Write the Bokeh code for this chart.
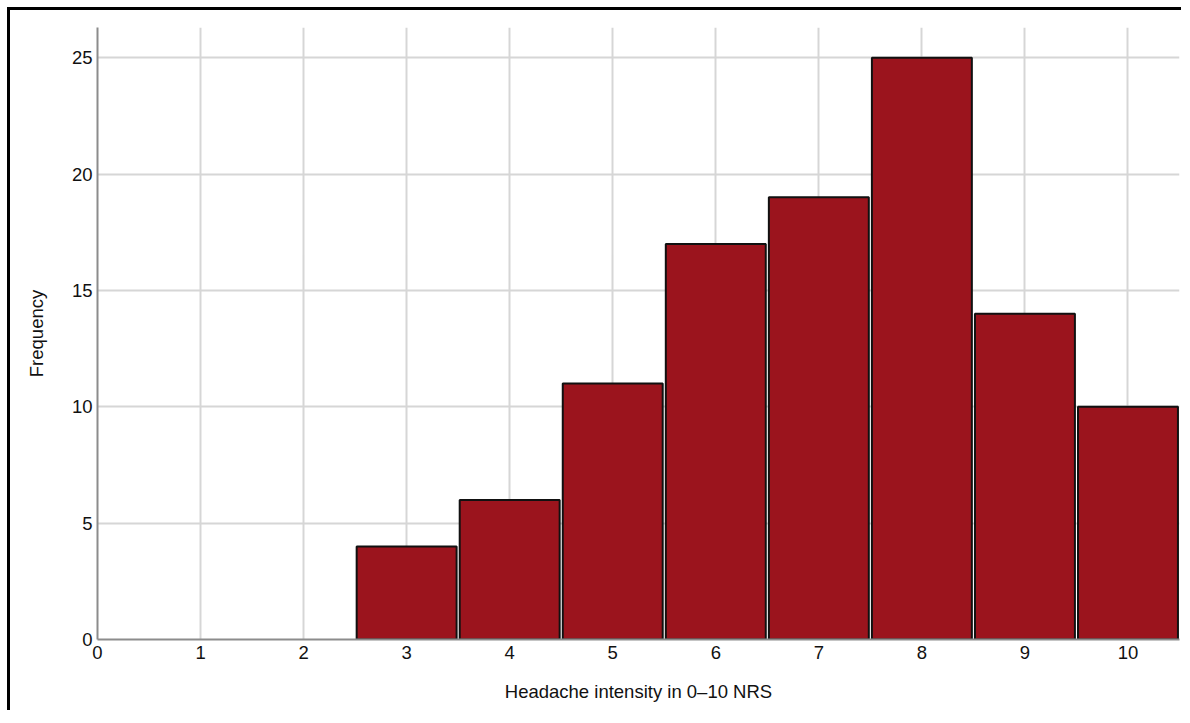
from bokeh.plotting import figure
from bokeh.models import Range1d, FixedTicker
from bokeh.embed import file_html
from bokeh.resources import INLINE

scores = [0, 1, 2, 3, 4, 5, 6, 7, 8, 9, 10]
frequency = [0, 0, 0, 4, 6, 11, 17, 19, 25, 14, 10]
x_ticks = [0, 1, 2, 3, 4, 5, 6, 7, 8, 9, 10]
y_ticks = [0, 5, 10, 15, 20, 25]
x_title = "Headache intensity in 0\u201310 NRS"
y_title = "Frequency"

bar_x = [s for s, f in zip(scores, frequency) if f > 0]
bar_top = [f for f in frequency if f > 0]

FONT = "Liberation Sans"
FS = "18.5px"

p = figure(
    frame_width=1082, frame_height=612,
    min_border_left=87, min_border_top=17, min_border_right=2, min_border_bottom=71,
    x_range=Range1d(0, 10.5), y_range=Range1d(0, 26.3),
    output_backend="svg", toolbar_location=None,
)
p.styles = {"border-left": "3px solid black", "border-top": "3px solid black",
            "margin-left": "7px", "margin-top": "7px"}
p.outline_line_color = None
p.background_fill_color = "white"
p.border_fill_color = "white"

p.vbar(x=bar_x, top=bar_top, width=0.97, bottom=0,
       fill_color="#9b141d", line_color="#111111", line_width=2)

for ax in (p.xaxis[0], p.yaxis[0]):
    ax.axis_line_color = "#8c8c8c"
    ax.axis_line_width = 2
    ax.major_tick_line_color = None
    ax.minor_tick_line_color = None
    ax.major_tick_in = 0
    ax.major_tick_out = 0
    ax.major_label_text_font = FONT
    ax.major_label_text_font_size = FS
    ax.major_label_text_color = "#111111"
    ax.axis_label_text_font = FONT
    ax.axis_label_text_font_size = FS
    ax.axis_label_text_font_style = "normal"
    ax.axis_label_text_color = "#111111"

p.xaxis.ticker = FixedTicker(ticks=x_ticks)
p.yaxis.ticker = FixedTicker(ticks=y_ticks)
p.xaxis.axis_label = x_title
p.yaxis.axis_label = y_title
p.xaxis.major_label_standoff = 6
p.yaxis.major_label_standoff = 5
p.xaxis.axis_label_standoff = 19
p.yaxis.axis_label_standoff = 22

p.xgrid.grid_line_color = "#d6d6d6"
p.ygrid.grid_line_color = "#d6d6d6"
p.xgrid.grid_line_width = 2
p.ygrid.grid_line_width = 2

open("out.html", "w").write(file_html(p, INLINE))
